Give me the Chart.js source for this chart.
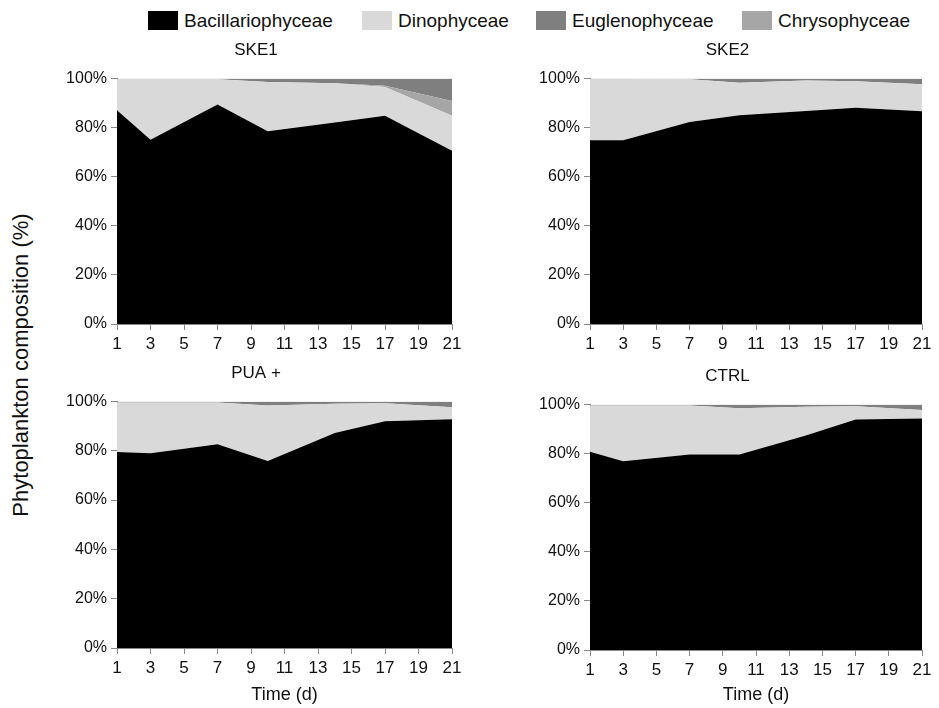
<!DOCTYPE html>
<html>
<head>
<meta charset="utf-8">
<script src="https://cdn.jsdelivr.net/npm/chart.js@4.4.0/dist/chart.umd.min.js"></script>
<style>
  body { margin: 0; background: #fff; font-family: "Liberation Sans", Arial, sans-serif; }
  #wrap { position: relative; width: 939px; height: 708px; overflow: hidden; }
  .panel { position: absolute; }
  .lg-box { position: absolute; top: 11px; width: 30px; height: 19px; }
  .lg-txt { position: absolute; top: 10px; font-size: 19px; color: #111; white-space: nowrap; }
  #ylab { position: absolute; left: 21px; top: 365px; font-size: 22px; color: #111; white-space: nowrap;
          transform: translate(-50%, -50%) rotate(-90deg); }
</style>
</head>
<body>
<div id="wrap">
  <div class="lg-box" style="left:148px;background:#000"></div><div class="lg-txt" style="left:184px">Bacillariophyceae</div>
  <div class="lg-box" style="left:362px;background:#d9d9d9"></div><div class="lg-txt" style="left:398px">Dinophyceae</div>
  <div class="lg-box" style="left:536px;background:#7f7f7f"></div><div class="lg-txt" style="left:572px">Euglenophyceae</div>
  <div class="lg-box" style="left:742px;background:#a6a6a6"></div><div class="lg-txt" style="left:778px">Chrysophyceae</div>

  <div id="ylab">Phytoplankton composition (%)</div>

  <div class="panel" style="left:60px;top:40px;width:412px;height:318px"><canvas id="c1"></canvas></div>
  <div class="panel" style="left:533px;top:40px;width:409px;height:318px"><canvas id="c2"></canvas></div>
  <div class="panel" style="left:60px;top:363px;width:412px;height:345px"><canvas id="c3"></canvas></div>
  <div class="panel" style="left:533px;top:366px;width:409px;height:342px"><canvas id="c4"></canvas></div>
</div>

<script>
// sampling days and axis ticks
const days = [1, 3, 7, 10, 14, 17, 21];
const dayTicks = [1, 3, 5, 7, 9, 11, 13, 15, 17, 19, 21];
const pctTicks = [0, 20, 40, 60, 80, 100];

// SKE1
const ske1Bac  = [87.0, 75.0, 89.4, 78.5, 82.0, 84.8, 70.5];
const ske1Dino = [12.7, 24.7, 10.3, 20.0, 16.0, 11.7, 14.3];
const ske1Chry = [0, 0, 0, 0, 0, 0.5, 6.0];
const ske1Eugl = [0.3, 0.3, 0.3, 1.5, 2.0, 3.0, 9.2];

// SKE2
const ske2Bac  = [74.8, 74.8, 82.2, 85.0, 86.7, 88.0, 86.6];
const ske2Dino = [25.0, 25.0, 17.5, 13.2, 12.4, 10.8, 11.0];
const ske2Chry = [0, 0, 0, 0, 0, 0, 0];
const ske2Eugl = [0.2, 0.2, 0.3, 1.8, 0.9, 1.2, 2.4];

// PUA +
const puaBac  = [79.5, 79.0, 82.6, 75.8, 87.2, 92.0, 92.8];
const puaDino = [20.1, 20.6, 17.0, 22.5, 11.8, 7.2, 4.8];
const puaChry = [0, 0, 0, 0, 0, 0, 0];
const puaEugl = [0.4, 0.4, 0.4, 1.7, 1.0, 0.8, 2.4];

// CTRL
const ctrlBac  = [80.7, 76.9, 79.6, 79.6, 87.3, 93.9, 94.3];
const ctrlDino = [18.9, 22.7, 20.0, 18.8, 11.7, 5.3, 3.4];
const ctrlChry = [0, 0, 0, 0, 0, 0, 0];
const ctrlEugl = [0.4, 0.4, 0.4, 1.6, 1.0, 0.8, 2.3];

const COLORS = { bac: "#000000", dino: "#d9d9d9", chry: "#a6a6a6", eugl: "#7f7f7f" };
const FONT = "'Liberation Sans', Arial, sans-serif";

function pts(vals) {
  return days.map((d, i) => ({ x: d, y: vals[i] }));
}

function makeChart(id, title, bac, dino, chry, eugl, showXTitle, xHeight) {
  const ds = (label, vals, color, fill) => ({
    label, data: pts(vals), backgroundColor: color, borderColor: color,
    borderWidth: 0, pointRadius: 0, tension: 0, fill
  });
  return new Chart(document.getElementById(id), {
    type: "line",
    data: {
      datasets: [
        ds("Bacillariophyceae", bac, COLORS.bac, "origin"),
        ds("Dinophyceae", dino, COLORS.dino, "-1"),
        ds("Chrysophyceae", chry, COLORS.chry, "-1"),
        ds("Euglenophyceae", eugl, COLORS.eugl, "-1")
      ]
    },
    options: {
      responsive: true,
      maintainAspectRatio: false,
      animation: false,
      layout: { padding: { right: 20, left: 0, top: 0, bottom: 0 } },
      plugins: {
        legend: { display: false },
        tooltip: { enabled: false },
        title: {
          display: true, text: title, color: "#111",
          font: { family: FONT, size: 17, weight: "normal" },
          padding: { top: 0, bottom: 18 }
        }
      },
      scales: {
        x: {
          type: "linear", min: 1, max: 21,
          afterBuildTicks: s => { s.ticks = dayTicks.map(v => ({ value: v })); },
          afterFit: s => { s.height = xHeight; },
          grid: { display: true, drawOnChartArea: false, drawTicks: true, tickLength: 6, color: "#888" },
          border: { display: true, color: "#888" },
          ticks: { color: "#111", font: { family: FONT, size: 17 }, padding: 4, maxRotation: 0, autoSkip: false },
          title: {
            display: showXTitle, text: "Time (d)", color: "#111",
            font: { family: FONT, size: 18 }, padding: { top: 0, bottom: 2 }
          }
        },
        y: {
          stacked: true, min: 0, max: 100,
          afterBuildTicks: s => { s.ticks = pctTicks.map(v => ({ value: v })); },
          afterFit: s => { s.width = 57; },
          grid: { display: true, drawOnChartArea: false, drawTicks: true, tickLength: 6, color: "#888" },
          border: { display: true, color: "#888" },
          ticks: { color: "#111", font: { family: FONT, size: 16 }, padding: 4, callback: v => v + "%" }
        }
      }
    }
  });
}

makeChart("c1", "SKE1", ske1Bac, ske1Dino, ske1Chry, ske1Eugl, false, 34);
makeChart("c2", "SKE2", ske2Bac, ske2Dino, ske2Chry, ske2Eugl, false, 34);
makeChart("c3", "PUA +", puaBac, puaDino, puaChry, puaEugl, true, 60);
makeChart("c4", "CTRL", ctrlBac, ctrlDino, ctrlChry, ctrlEugl, true, 58);
</script>
</body>
</html>
